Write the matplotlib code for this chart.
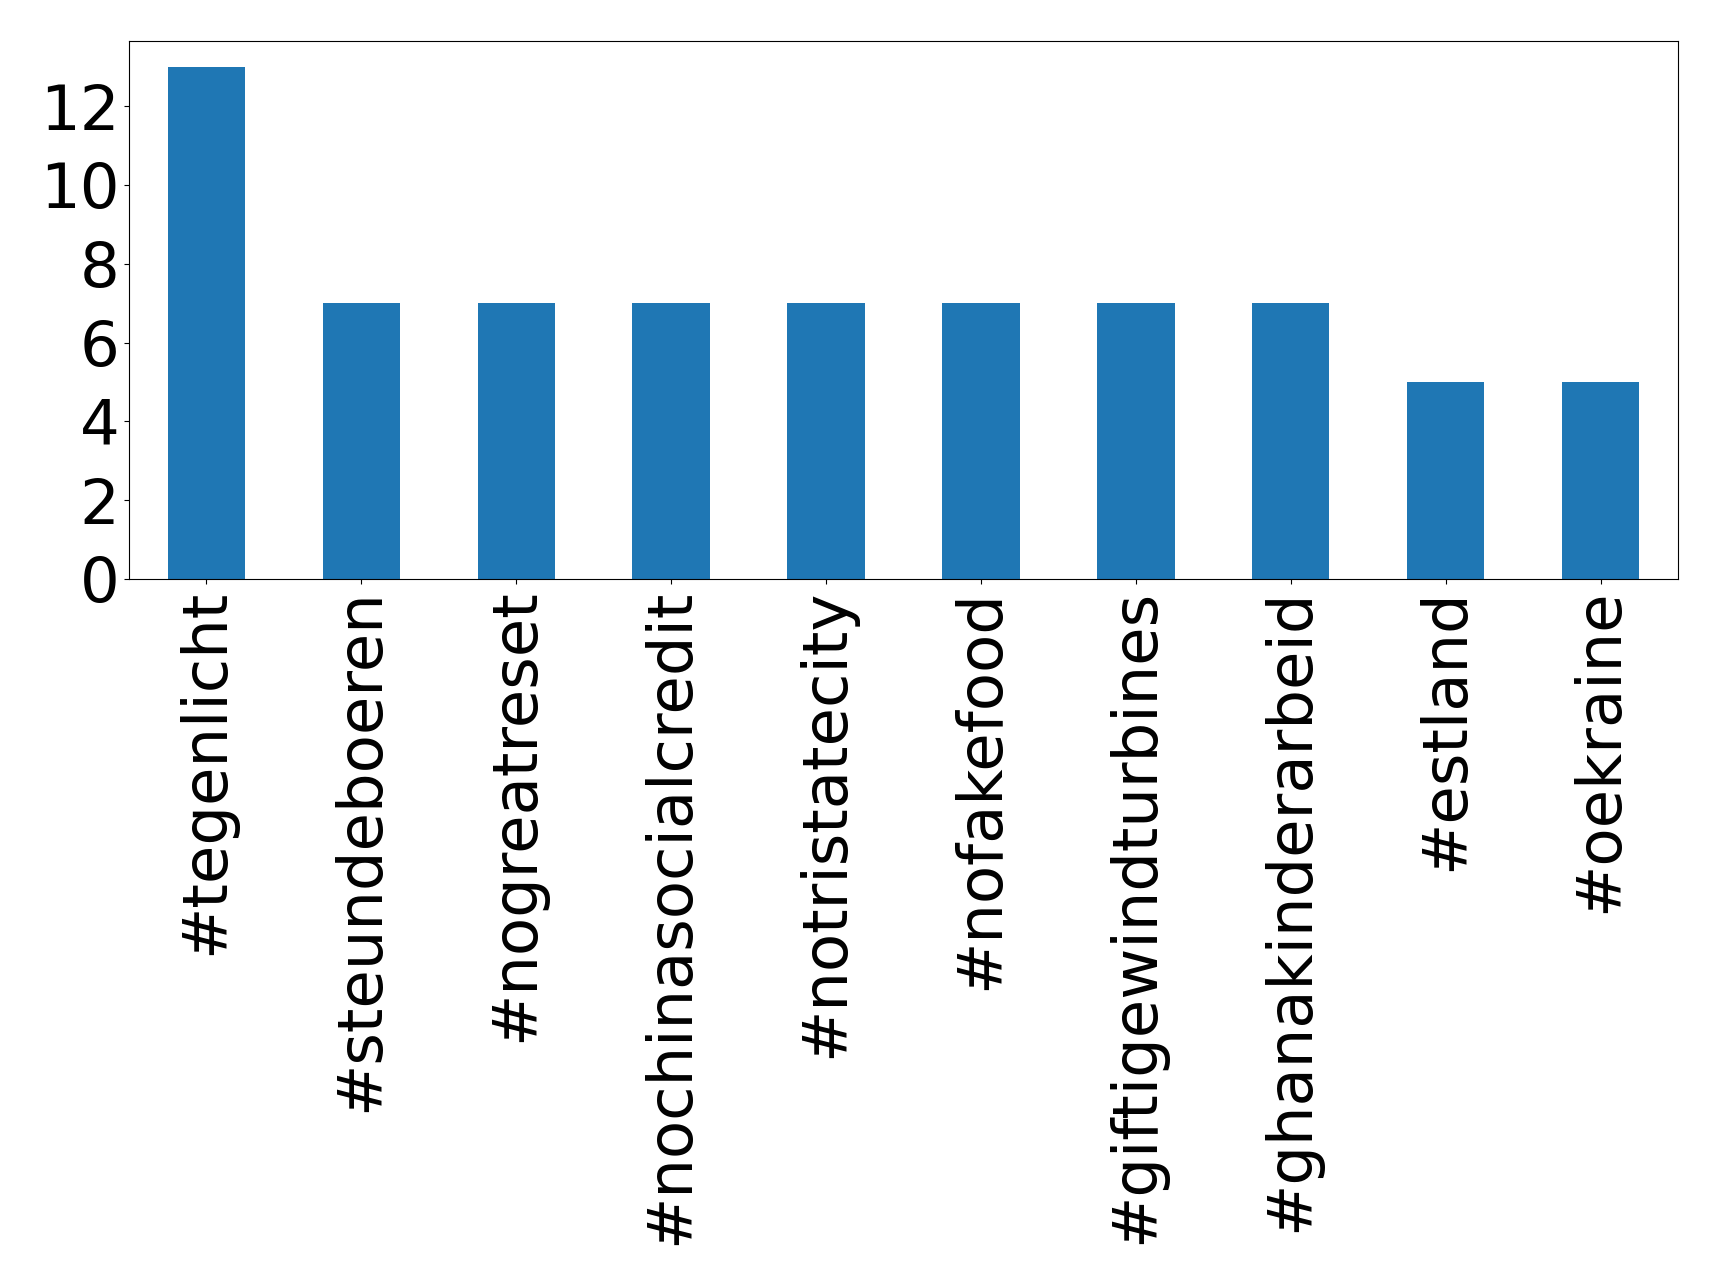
import pandas as pd
import matplotlib.pyplot as plt

# Hashtag counts
hashtags = ['#tegenlicht', '#steundeboeren', '#nogreatreset', '#nochinasocialcredit',
            '#notristatecity', '#nofakefood', '#giftigewindturbines',
            '#ghanakinderarbeid', '#estland', '#oekraine']
counts = [13, 7, 7, 7, 7, 7, 7, 7, 5, 5]

s = pd.Series(counts, index=hashtags)

fig = plt.figure(figsize=(17.19, 12.85), dpi=100)
ax = fig.add_axes([129 / 1719, 1 - 579 / 1285, (1678 - 129) / 1719, (579 - 41) / 1285])
s.plot.bar(ax=ax, fontsize=45, color='#1f77b4')
ax.set_xlabel('')
plt.savefig('out.png', dpi=100)
plt.close()
